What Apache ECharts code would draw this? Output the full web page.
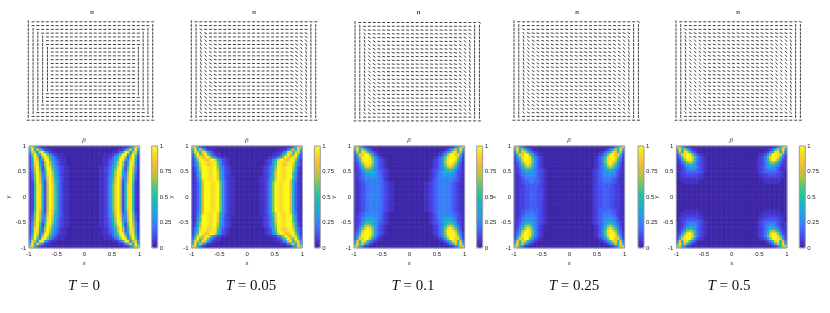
<!DOCTYPE html>
<html><head><meta charset="utf-8">
<style>html,body{margin:0;padding:0;background:#fff}#c{width:830px;height:313px;filter:blur(0.55px)}</style>
<script src="https://cdn.jsdelivr.net/npm/echarts@6/dist/echarts.min.js"></script>
</head><body><div id="c"></div>
<script>
const captions = ['0','0.05','0.1','0.25','0.5'];
const axisTicks = [-1,-0.5,0,0.5,1];
const levels = 'abcdefghijklmnopqrstuvwxyz';
const dirAngles = {'-':0,'a':-8,'b':-16,'c':-30,'d':-50,'e':-70,'|':90};
const parula = ['#3e26a8','#4742e9','#3f71fc','#2796eb','#17b1cf','#1fbea9','#54c779','#aec73e','#ecba37','#fad22d','#f9fb15'];

const beta0 = ['tvkfcbbaaaaaaaaaaaaaaa','mylvogcbbaaaaaaaaaaaaa','gwsgxykfcbbaaaaaaaaaaa','eqznjyzpiecbbbaaaaaaaa','dnzseszwmhecbbbaaaaaaa','dkywgjyzpjfdcbbaaaaaaa','cixyjesztlgecbbaaaaaaa','cixykeszumhecbbaaaaaaa','chuzodozxoifdcbbaaaaaa','cgtzpdmzyqjfdcbbaaaaaa','bfrzrfixzskgdcbbaaaaaa','beqzsgixzslgdcbbaaaaaa','beqzthgvzumhecbbaaaaaa','bdpzuhevzvnhecbbaaaaaa','bcoyvjdtzvoiecbbaaaaaa','bcnyxldszwpiecbbaaaaaa','bcnyxldszwpiecbbaaaaaa','bcnyxldszwpiecbbaaaaaa','bcnyxldszwpiecbbaaaaaa','bcnyxldszwpiecbbaaaaaa'];
const beta1 = ['uvkfcbaaaaaaaaaaaaaaaa','mxlunfcbbaaaaaaaaaaaaa','hwulxvjfcbbaaaaaaaaaaa','epzptzqiecbbaaaaaaaaaa','dkwytwzrjfdcbbaaaaaaaa','cgqzyvvyzvlgdcbaaaaaaa','cfnxzywxyyoidcbaaaaaaa','cfmwzywwyypiecbaaaaaaa','bdjszzyxyzrigdcbaaaaaa','bdjszzyxyzsigdcbaaaaaa','bchozzyxyzvlgdcbaaaaaa','bchozzyxyzvlgdcbaaaaaa','bcgozzyxyzvmhdcbbaaaaa','bcflvzyxyzwnhecbbaaaaa','bcekuzzyxyzqiecbbaaaaa','bcekuzzyxyzqiecbbaaaaa','bcekuzzyxyzqiecbbaaaaa','bcekuzzyxyzqiecbbaaaaa','bcekuzzyxyzqiecbbaaaaa','bcekuzzyxyzqiecbbaaaaa'];
const beta2 = ['uskfcbaaaaaaaaaaaaaaaa','lxnungdbaaaaaaaaaaaaaa','funxwohecbaaaaaaaaaaaa','dmwvzzriecbaaaaaaaaaaa','chsyzzxpiecbaaaaaaaaaa','cfoxzzyrjfdcbaaaaaaaaa','bekuyzysjfdcbaaaaaaaaa','bdhpvyxqjfdcbaaaaaaaaa','bcfkrutnifdcbaaaaaaaaa','bcehmonkhfedcbaaaaaaaa','bcdfiklkjgedcbaaaaaaaa','bcdfhiiihgfdcbaaaaaaaa','bcdeghhhhgfdcbaaaaaaaa','bbdefgggggfecbaaaaaaaa','bbcdefggggfedcbbaaaaaa','bbcdefggggfedcbbaaaaaa','bbcdefggggfedcbbaaaaaa','bbcdefggggfedcbbaaaaaa','bbcdefggggfedcbbaaaaaa','bbcdefggggfedcbbaaaaaa'];
const beta3 = ['uskfcbaaaaaaaaaaaaaaaa','lxmtmgdbaaaaaaaaaaaaaa','funwvnhecbaaaaaaaaaaaa','dmwuzzpiecbaaaaaaaaaaa','chqxzzwnhecbaaaaaaaaaa','cfmvzzxphecbaaaaaaaaaa','beirwzxpiecbaaaaaaaaaa','bdgnsxvnhecbaaaaaaaaaa','bcfjpsqkgecbaaaaaaaaaa','bcegklkigedcbaaaaaaaaa','bcdfhihhgedcbaaaaaaaaa','bbdfghhhgedcbaaaaaaaaa','bbcefgggfedcbaaaaaaaaa','bbcdeffffedcbaaaaaaaaa','bbcdeeffeedcbaaaaaaaaa','bbccdeeeeedcbaaaaaaaaa','bbccddeeeddcbaaaaaaaaa','bbccddeeeddcbaaaaaaaaa','bbccddeeeddcbaaaaaaaaa','bbccddeeeddcbaaaaaaaaa'];
const beta4 = ['uskfcbaaaaaaaaaaaaaaaa','lxmtmfcbaaaaaaaaaaaaaa','fumxxmgdbaaaaaaaaaaaaa','dkvxzzqhdcbaaaaaaaaaaa','cgpxzzwogdcbaaaaaaaaaa','cdjryzvmfdcbaaaaaaaaaa','bcfkqtqkfdcbaaaaaaaaaa','bcdgkmliedcbaaaaaaaaaa','bbcegiihfdcbaaaaaaaaaa','bbcdfgggedcbaaaaaaaaaa','abcdeeeeedcbaaaaaaaaaa','abccddddccbaaaaaaaaaaa','abbccccccbbaaaaaaaaaaa','aabbbbbbbbaaaaaaaaaaaa','aaabbbbbbaaaaaaaaaaaaa','aaaaaaaaaaaaaaaaaaaaaa','aaaaaaaaaaaaaaaaaaaaaa','aaaaaaaaaaaaaaaaaaaaaa','aaaaaaaaaaaaaaaaaaaaaa','aaaaaaaaaaaaaaaaaaaaaa'];

const dir0 = ['|--------------------------','|-------------------------|','||-----------------------||','|||---------------------|||','||||--------------------|||','||||--------------------|||','||||--------------------|||','|||||------------------||||','|||||------------------||||','|||||------------------||||','|||||------------------||||','|||||------------------||||','|||||------------------||||','|||||------------------||||','|||||------------------||||','|||||------------------||||','|||||------------------||||','|||||------------------||||','|||||------------------||||','||||-------------------||||','||||--------------------|||','||||--------------------|||','|||---------------------|||','|||----------------------||','||-----------------------||','|-------------------------|','---------------------------'];
const dir1 = ['|--------------------------','||-----------------------||','||c---------------------a||','||db-------------------ab||','||eca-----------------abc||','||edba---------------abcd||','||edcba-------------abcde||','||edcba-------------abcde||','||edcba-------------abcde||','||edcba-------------abcde||','||edcba-------------abcde||','||edcba-------------abcde||','||edcba-------------abcde||','||edcba-------------abcde||','||edcba-------------abcde||','||edcba-------------abcde||','||edcba-------------abcde||','||edcba-------------abcde||','||edcba-------------abcde||','||edcba-------------abcde||','||edcba-------------abcde||','||edcba-------------abcde||','||edcba-------------abcde||','||edcba-------------abcde||','||dcba---------------abcd||','||-----------------------||','---------------------------'];
const dir2 = ['|-------------------------c','||-----------------------||','||caaaaaaaaaaaaaaaaaaaaab||','||dbaaaaaaaaaaaaaaaaaaabc||','||ecbaaaaaaaaaaaaaaaaabcd||','||edcbaaaaaaaaaaaaaaabcde||','||edcbbaaaaaaaaaaaaabbcde||','||edcbbaaaaaaaaaaaaabbcde||','||edcbbaaaaaaaaaaaaabbcde||','||edcbbaaaaaaaaaaaaabbcde||','||edcbbaaaaaaaaaaaaabbcde||','||edcbbaaaaaaaaaaaaabbcde||','||edcbbaaaaaaaaaaaaabbcde||','||edcbbaaaaaaaaaaaaabbcde||','||edcbbaaaaaaaaaaaaabbcde||','||edcbbaaaaaaaaaaaaabbcde||','||edcbbaaaaaaaaaaaaabbcde||','||edcbbaaaaaaaaaaaaabbcde||','||edcbbaaaaaaaaaaaaabbcde||','||edcbbaaaaaaaaaaaaabbcde||','||edcbbaaaaaaaaaaaaabbcde||','||edcbbaaaaaaaaaaaaabbcde||','||edcbbaaaaaaaaaaaaabbcde||','||edcbbaaaaaaaaaaaaabbcde||','||dcbaaaaaaaaaaaaaaaaabcd||','||-----------------------||','---------------------------'];
const dir3 = ['|-------------------------c','||-----------------------||','||caaaaaaaaaaaaaaaaaaaaab||','||dbaaaaaaaaaaaaaaaaaaabc||','||ecbbbbbbbbbbbbbbbbbbbcd||','||edcbbbbbbbbbbbbbbbbbcde||','||edccbbbbbbbbbbbbbbbccde||','||edccbbbbbbbbbbbbbbbccde||','||edccbbbbbbbbbbbbbbbccde||','||edccbbbbbbbbbbbbbbbccde||','||edccbbbbbbbbbbbbbbbccde||','||edccbbbbbbbbbbbbbbbccde||','||edccbbbbbbbbbbbbbbbccde||','||edccbbbbbbbbbbbbbbbccde||','||edccbbbbbbbbbbbbbbbccde||','||edccbbbbbbbbbbbbbbbccde||','||edccbbbbbbbbbbbbbbbccde||','||edccbbbbbbbbbbbbbbbccde||','||edccbbbbbbbbbbbbbbbccde||','||edccbbbbbbbbbbbbbbbccde||','||edccbbbbbbbbbbbbbbbccde||','||edccbbbbbbbbbbbbbbbccde||','||edccbbbbbbbbbbbbbbbccde||','||edccbbbbbbbbbbbbbbbccde||','||dcbbbbbbbbbbbbbbbbbbbcd||','||-----------------------||','---------------------------'];
const dir4 = ['|-------------------------c','||-----------------------||','||caaaaaaaaaaaaaaaaaaaaab||','||dbbbbbbbbbbbbbbbbbbbbbc||','||ecbbbbbbbbbbbbbbbbbbbcd||','||eddcbbbbbbbbbbbbbbbcdde||','||edddcbbbbbbbbbbbbbcddde||','||edddcbbbbbbbbbbbbbcddde||','||edddcbbbbbbbbbbbbbcddde||','||edddcbbbbbbbbbbbbbcddde||','||edddcbbbbbbbbbbbbbcddde||','||edddcbbbbbbbbbbbbbcddde||','||edddcbbbbbbbbbbbbbcddde||','||edddcbbbbbbbbbbbbbcddde||','||edddcbbbbbbbbbbbbbcddde||','||edddcbbbbbbbbbbbbbcddde||','||edddcbbbbbbbbbbbbbcddde||','||edddcbbbbbbbbbbbbbcddde||','||edddcbbbbbbbbbbbbbcddde||','||edddcbbbbbbbbbbbbbcddde||','||edddcbbbbbbbbbbbbbcddde||','||edddcbbbbbbbbbbbbbcddde||','||edddcbbbbbbbbbbbbbcddde||','||eddcbbbbbbbbbbbbbbbcdde||','||dcbbbbbbbbbbbbbbbbbbbcd||','||-----------------------||','---------------------------'];

const betaRows = [beta0,beta1,beta2,beta3,beta4];
const dirRows = [dir0,dir1,dir2,dir3,dir4];
const heatLeft = [29,191.7,354,514,676.3];
const quivLeft = [28.3,191.3,355,514,676];
const barLeft = [151.7,314.3,476.7,638,799.3];
const nCenter = [92,254,418.7,577,738];
const capCenter = [84,251,413,574,729];

const lbl = {fontFamily:'Liberation Sans',fontSize:6,color:'#222'};
const xCats = Array.from({length:44},(_,i)=>i), yCats = Array.from({length:40},(_,i)=>i);

function heatData(rows){
  const out=[];
  for(let r=0;r<40;r++){
    const row = rows[r<20?r:39-r];
    for(let c=0;c<44;c++){
      const ch = row[c<22?c:43-c]||'a';
      out.push([c,39-r,levels.indexOf(ch)/25]);
    }
  }
  return out;
}
function dirData(rows){
  const out=[];
  rows.forEach((row,r)=>{
    for(let c=0;c<row.length;c++) out.push([c,26-r,dirAngles[row[c]]]);
  });
  return out;
}
const renderDir=(p,api)=>{
  const q=api.coord([api.value(0),api.value(1)]), a=api.value(2)*Math.PI/180, L=1.5;
  const dx=Math.cos(a)*L, dy=Math.sin(a)*L;
  return {type:'line',shape:{x1:q[0]-dx,y1:q[1]+dy,x2:q[0]+dx,y2:q[1]-dy},style:{stroke:'#111',lineWidth:0.8}};
};

const grid=[],xAxis=[],yAxis=[],series=[],visualMap=[],title=[];
const none={show:false};
// vector panels
captions.forEach((t,i)=>{
  grid.push({left:quivLeft[i],top:i==2?22.5:21.8,width:124.4,height:98.4});
  xAxis.push({type:'value',gridIndex:grid.length-1,min:0,max:26,show:false});
  yAxis.push({type:'value',gridIndex:grid.length-1,min:0,max:26,show:false});
  series.push({type:'custom',coordinateSystem:'cartesian2d',xAxisIndex:xAxis.length-1,yAxisIndex:yAxis.length-1,
    renderItem:renderDir,data:dirData(dirRows[i]),encode:{x:0,y:1},silent:true,animation:false});
  title.push({text:'n',left:nCenter[i],top:9.5,padding:0,textAlign:'center',textStyle:{fontFamily:'Liberation Sans',fontSize:6,fontWeight:'bold',color:'#333'}});
});
// heat panels
captions.forEach((t,i)=>{
  const g=grid.length;
  grid.push({show:true,z:3,left:heatLeft[i],top:146,width:110.7,height:102,borderColor:'#9a9abc',borderWidth:1,backgroundColor:'transparent'});
  xAxis.push({type:'category',gridIndex:g,data:xCats,show:false});
  const xa=xAxis.length-1;
  xAxis.push({type:'value',gridIndex:g,min:-1,max:1,interval:0.5,position:'bottom',name:'x',nameLocation:'middle',nameGap:12,
    nameTextStyle:lbl,axisLine:none,axisTick:none,splitLine:none,axisLabel:{...lbl,margin:3}});
  yAxis.push({type:'category',gridIndex:g,data:yCats,show:false});
  const ya=yAxis.length-1;
  yAxis.push({type:'value',gridIndex:g,min:-1,max:1,interval:0.5,position:'left',name:'y',nameLocation:'middle',nameGap:11,
    nameTextStyle:lbl,axisLine:none,axisTick:none,splitLine:none,axisLabel:{...lbl,margin:3}});
  series.push({type:'heatmap',z:1,xAxisIndex:xa,yAxisIndex:ya,data:heatData(betaRows[i]),silent:true,animation:false,progressive:0,itemStyle:{borderWidth:0}});
  visualMap.push({type:'continuous',seriesIndex:series.length-1,min:0,max:1,dimension:2,show:true,calculable:false,hoverLink:false,
    left:barLeft[i],top:146,itemWidth:6,itemHeight:102,padding:0,text:null,showLabel:false,z:1,inRange:{color:parula}});
  // colour bar scale
  const b=grid.length;
  grid.push({show:true,z:5,left:barLeft[i],top:146,width:6,height:102,borderColor:'#999',borderWidth:1,backgroundColor:'transparent'});
  xAxis.push({type:'value',gridIndex:b,show:false,min:0,max:1});
  yAxis.push({type:'value',gridIndex:b,min:0,max:1,interval:0.25,position:'right',axisLine:none,axisTick:none,splitLine:none,axisLabel:{...lbl,margin:2}});
  title.push({text:'β',left:heatLeft[i]+55,top:137,padding:0,textAlign:'center',textStyle:{fontFamily:'Liberation Serif',fontSize:7,fontStyle:'italic',fontWeight:'normal',color:'#333'}});
  title.push({text:'{i|T} = '+t,left:capCenter[i],top:279,padding:0,textAlign:'center',textStyle:{fontFamily:'Liberation Serif',fontSize:15,fontWeight:'normal',color:'#111',rich:{i:{fontFamily:'Liberation Serif',fontSize:15,fontStyle:'italic',color:'#111'}}}});
});

const chart=echarts.init(document.getElementById('c'),null,{renderer:'canvas'});
chart.setOption({animation:false,backgroundColor:'#fff',title,grid,xAxis,yAxis,series,visualMap});
</script></body></html>
